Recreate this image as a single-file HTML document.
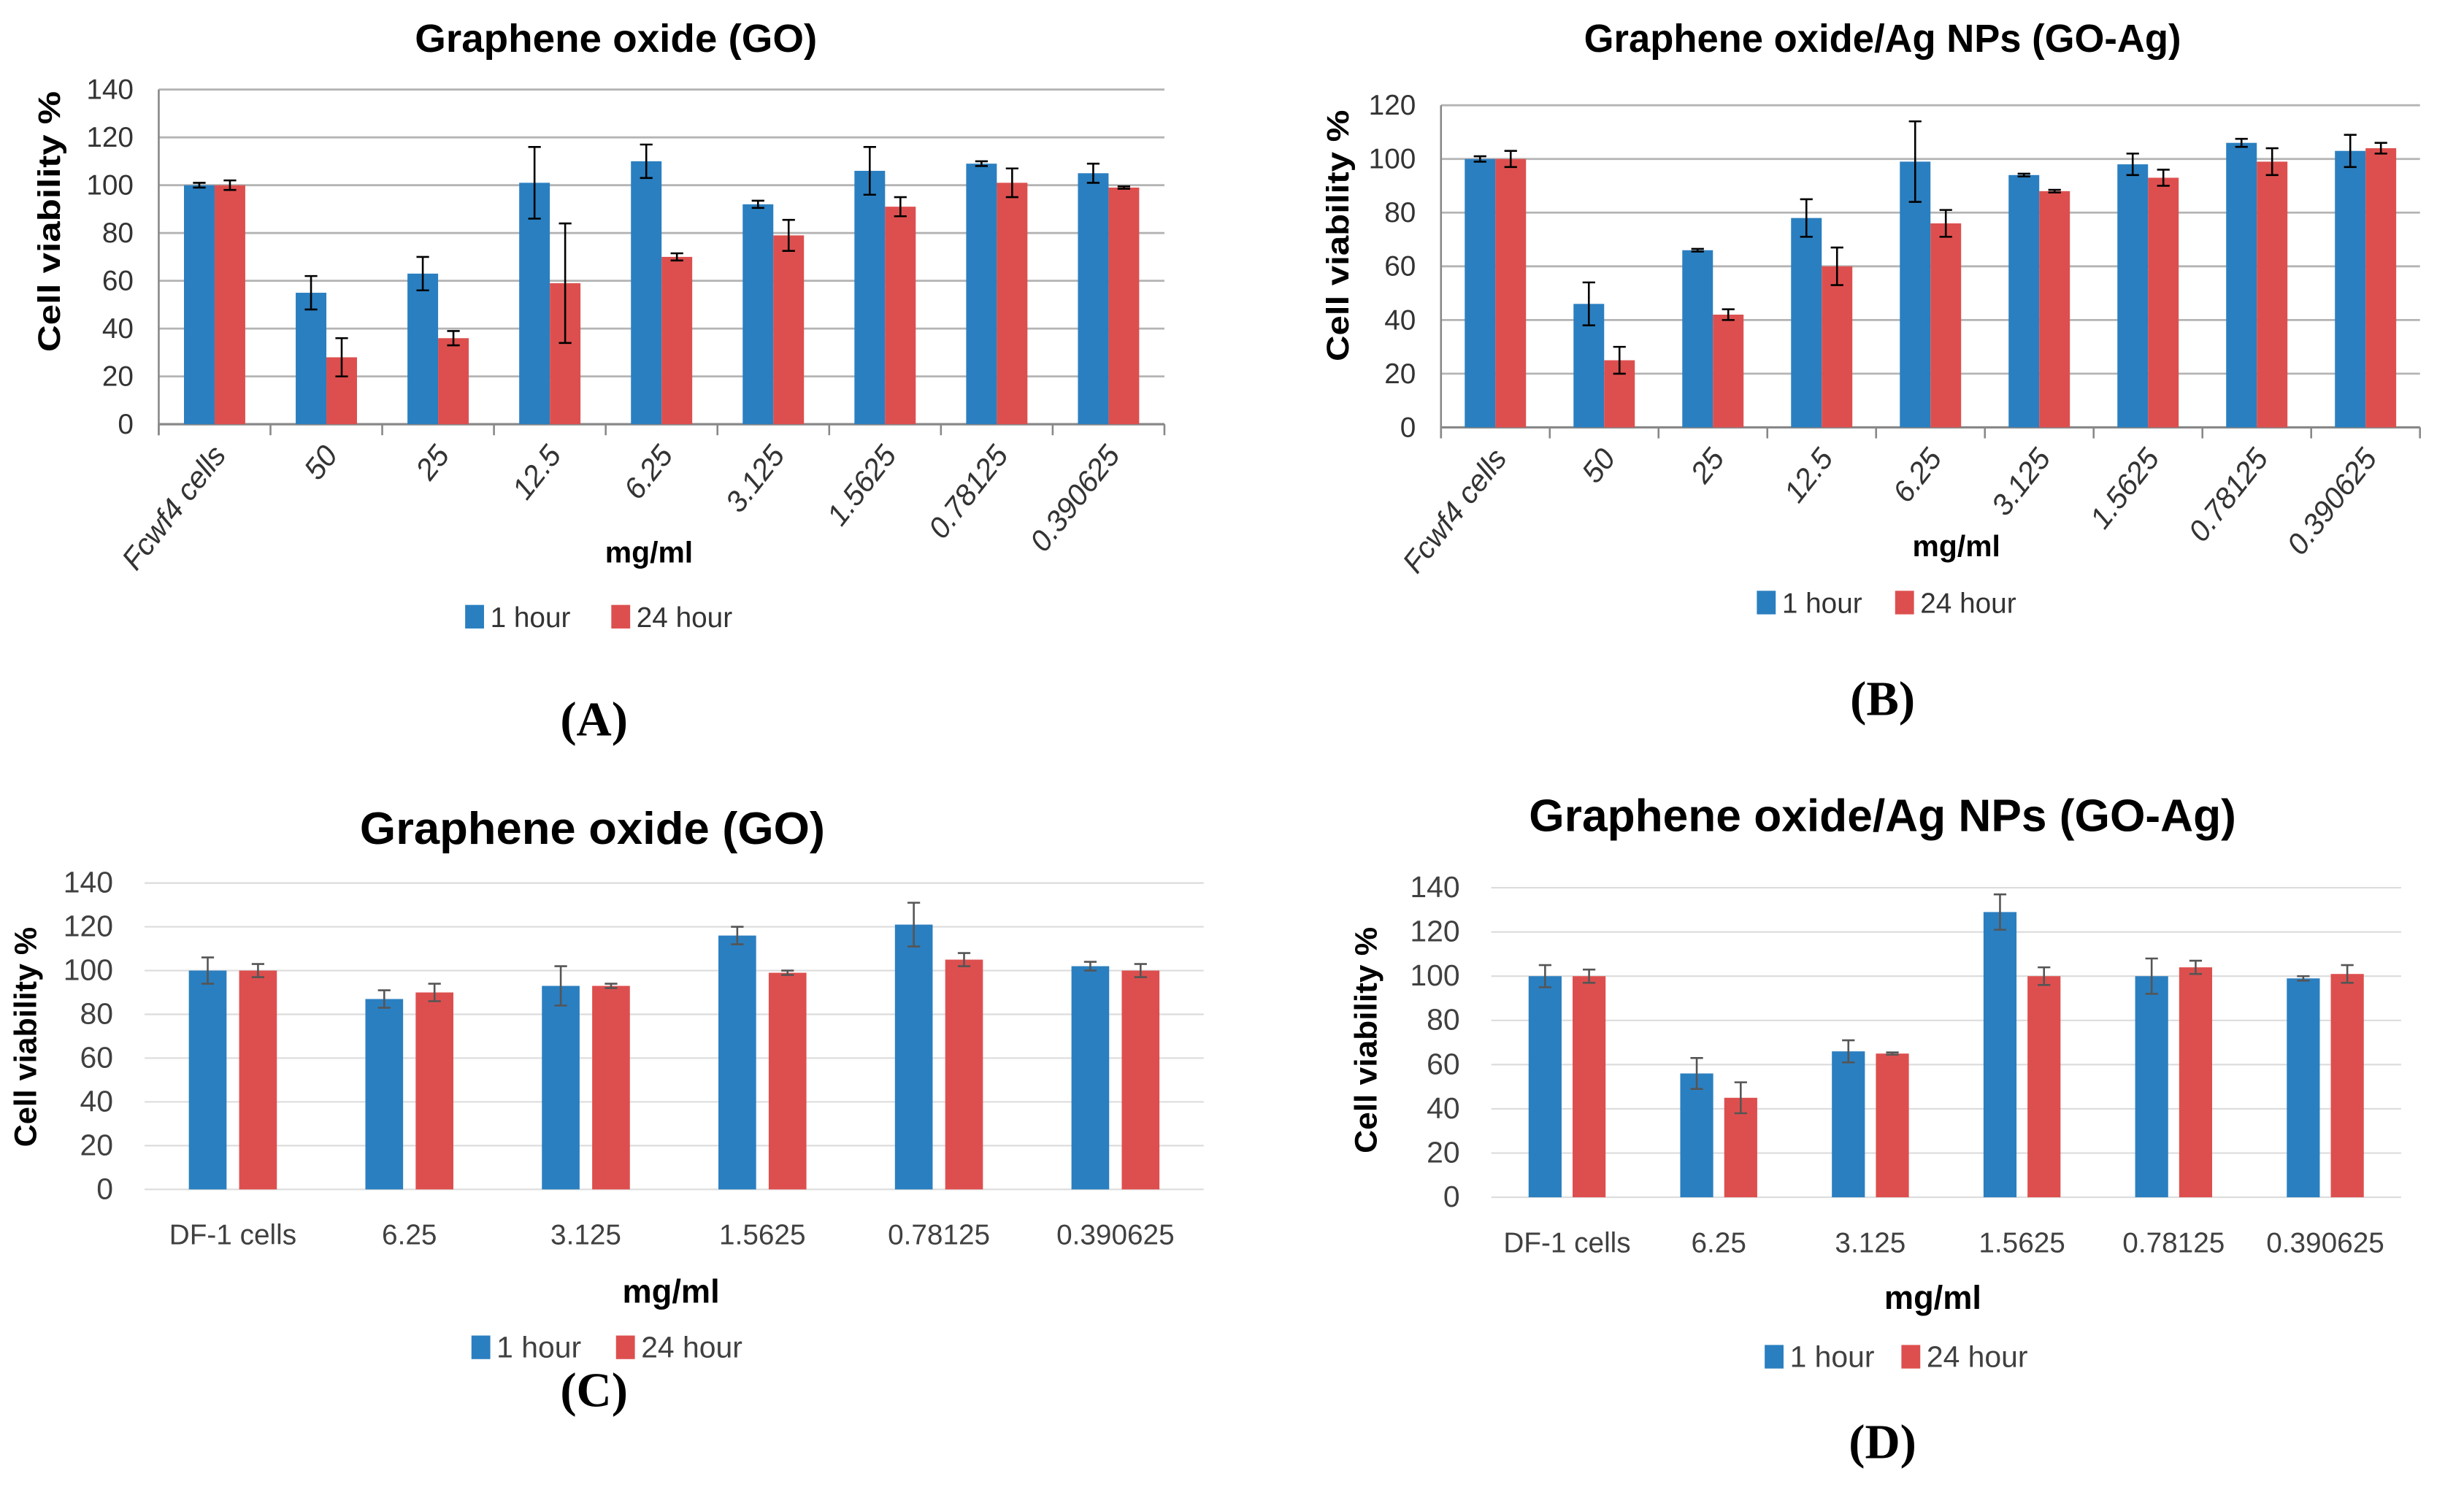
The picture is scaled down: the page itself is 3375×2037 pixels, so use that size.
<!DOCTYPE html>
<html><head><meta charset="utf-8"><style>
html,body{margin:0;padding:0;background:#fff;}
svg{display:block;}
text{font-family:"Liberation Sans Narrow","Liberation Sans",sans-serif;}
</style></head><body>
<svg id="fig" width="3375" height="2037" viewBox="0 0 1568 946.4" xmlns="http://www.w3.org/2000/svg"></svg>
<script>
// Panel A data
const catsA = ["Fcwf4 cells","50","25","12.5","6.25","3.125","1.5625","0.78125","0.390625"];
const h1A = [100,55,63,101,110,92,106,109,105];
const e1A = [1,7,7,15,7,1.5,10,1,4];
const h24A = [100,28,36,59,70,79,91,101,99];
const e24A = [2,8,3,25,1.5,6.5,4,6,0.5];
const ticksA = [0,20,40,60,80,100,120,140];
// Panel B data
const catsB = ["Fcwf4 cells","50","25","12.5","6.25","3.125","1.5625","0.78125","0.390625"];
const h1B = [100,46,66,78,99,94,98,106,103];
const e1B = [1,8,0.5,7,15,0.5,4,1.5,6];
const h24B = [100,25,42,60,76,88,93,99,104];
const e24B = [3,5,2,7,5,0.5,3,5,2];
const ticksB = [0,20,40,60,80,100,120];
// Panel C data
const catsC = ["DF-1 cells","6.25","3.125","1.5625","0.78125","0.390625"];
const h1C = [100,87,93,116,121,102];
const e1C = [6,4,9,4,10,2];
const h24C = [100,90,93,99,105,100];
const e24C = [3,4,1,1,3,3];
const ticksC = [0,20,40,60,80,100,120,140];
// Panel D data
const catsD = ["DF-1 cells","6.25","3.125","1.5625","0.78125","0.390625"];
const h1D = [100,56,66,129,100,99];
const e1D = [5,7,5,8,8,1];
const h24D = [100,45,65,100,104,101];
const e24D = [3,7,0.5,4,3,4];
const ticksD = [0,20,40,60,80,100,120,140];

const NS="http://www.w3.org/2000/svg";
const svg=document.getElementById('fig');
function mk(tag,attrs,parent,txt){const e=document.createElementNS(NS,tag);for(const k in attrs)e.setAttribute(k,attrs[k]);if(txt!==undefined)e.textContent=txt;(parent||svg).appendChild(e);return e;}
const BLUE="#2a7fc0", RED="#dd4f4e";

function panel(cfg){
  const g=mk('g',{});
  
  
  const ymax=cfg.ticks[cfg.ticks.length-1];
  const y=v=>cfg.y0-(v/ymax)*(cfg.y0-cfg.ytop);
  const n=cfg.cats.length, cw=(cfg.x1-cfg.x0)/n;
  const cx=i=>cfg.x0+cw*(i+0.5);
  cfg.ticks.forEach(t=>{
    const l=mk('line',{x1:cfg.x0,x2:cfg.x1,y1:y(t),y2:y(t),stroke:cfg.grid,'stroke-width':cfg.rot?1.3:1},g);
    
    
    const tx=mk('text',{x:cfg.x0-cfg.tickGap,y:y(t)+6,'text-anchor':'end','font-size':cfg.tickFs,fill:cfg.txt},g,String(t));
    
    
  });
  if(cfg.rot){
    const ax=mk('line',{x1:cfg.x0,x2:cfg.x0,y1:cfg.ytop,y2:cfg.y0+7,stroke:'#888','stroke-width':1.2},g);
    
    
    const bx=mk('line',{x1:cfg.x0,x2:cfg.x1,y1:cfg.y0,y2:cfg.y0,stroke:'#888','stroke-width':1.5},g);
    
    
    for(let i=0;i<=n;i++){
      const tk=mk('line',{x1:cfg.x0+cw*i,x2:cfg.x0+cw*i,y1:cfg.y0,y2:cfg.y0+7,stroke:'#888','stroke-width':1.2},g);
      
      
    }
  }
  const series=[[cfg.h1,cfg.e1,BLUE,-1,'bar-1-hour'],[cfg.h24,cfg.e24,RED,1,'bar-24-hour']];
  series.forEach(([vals,errs,col,side,nm])=>{
    vals.forEach((v,i)=>{
      const bxp = side<0 ? cx(i)-cfg.gap/2-cfg.bw : cx(i)+cfg.gap/2;
      const r=mk('rect',{x:bxp,y:y(v),width:cfg.bw,height:cfg.y0-y(v),fill:col},g);
      
      
      const mx=bxp+cfg.bw/2, e=errs[i];
      const eb=mk('path',{d:`M${mx},${y(v+e)}V${y(v-e)}M${mx-4},${y(v+e)}H${mx+4}M${mx-4},${y(v-e)}H${mx+4}`,stroke:cfg.errCol,'stroke-width':1.2,fill:'none'},g);
      
      
    });
  });
  cfg.cats.forEach((c,i)=>{
    let t;
    if(cfg.rot){
      const ax=cx(i)+8, ay=cfg.y0+20;
      t=mk('text',{x:ax,y:ay,'text-anchor':'end','font-size':cfg.catFs,'font-style':'italic',fill:cfg.txt,transform:`rotate(-52 ${ax} ${ay})`},g,c);
    } else {
      t=mk('text',{x:cx(i),y:cfg.catY,'text-anchor':'middle','font-size':cfg.catFs,fill:cfg.txt},g,c);
    }
    
    
  });
  const ti=mk('text',{x:cfg.titleX,y:cfg.titleY,'text-anchor':'middle','font-size':cfg.titleFs,'font-weight':'bold',fill:'#000',textLength:cfg.titleW,lengthAdjust:'spacingAndGlyphs'},g,cfg.title);
  
  
  const yt=mk('text',{x:cfg.ytX,y:cfg.ytY,'text-anchor':'middle','font-size':cfg.ytFs,'font-weight':'bold',fill:'#000',textLength:cfg.ytW,lengthAdjust:'spacingAndGlyphs',style:'font-family:"Liberation Sans",sans-serif',transform:`rotate(-90 ${cfg.ytX} ${cfg.ytY})`},g,'Cell viability %');
  
  
  const xt=mk('text',{x:cfg.xtX,y:cfg.xtY,'text-anchor':'middle','font-size':cfg.xtFs,'font-weight':'bold',fill:'#000'},g,'mg/ml');
  
  
  const lg=mk('g',{},g);
  
  
  const s1=mk('rect',{x:cfg.lgX,y:cfg.lgY-14,width:12,height:15,fill:BLUE},lg);
  
  
  const l1=mk('text',{x:cfg.lgX+16,y:cfg.lgY,'font-size':cfg.lgFs,fill:cfg.txt},lg,'1 hour');
  
  
  const s2=mk('rect',{x:cfg.lgX2,y:cfg.lgY-14,width:12,height:15,fill:RED},lg);
  
  
  const l2=mk('text',{x:cfg.lgX2+16,y:cfg.lgY,'font-size':cfg.lgFs,fill:cfg.txt},lg,'24 hour');
  
  
  const pl=mk('text',{x:cfg.plX,y:cfg.plY,'text-anchor':'middle','font-size':31,'font-weight':'bold',fill:'#000',style:'font-family:"Liberation Serif",serif'},g,cfg.panel);
  
  
}

panel({name:'chart-a',cats:catsA,h1:h1A,e1:e1A,h24:h24A,e24:e24A,ticks:ticksA,
  x0:101,x1:741,ytop:57,y0:270,bw:19.5,gap:0,grid:'#b4b4b4',errCol:'#000',txt:'#333',tickGap:16,tickFs:18,
  rot:true,catFs:19,title:'Graphene oxide (GO)',titleW:256,titleX:392,titleY:33,titleFs:25,
  ytX:38,ytY:141,ytW:166,ytFs:20,xtX:413,xtY:358,xtFs:19,lgX:296,lgX2:389,lgY:399,lgFs:18,panel:'(A)',plX:378,plY:468});
panel({name:'chart-b',cats:catsB,h1:h1B,e1:e1B,h24:h24B,e24:e24B,ticks:ticksB,
  x0:917,x1:1540,ytop:67,y0:272,bw:19.5,gap:0,grid:'#b4b4b4',errCol:'#000',txt:'#333',tickGap:16,tickFs:18,
  rot:true,catFs:19,title:'Graphene oxide/Ag NPs (GO-Ag)',titleW:380,titleX:1198,titleY:33,titleFs:25,
  ytX:858,ytY:150,ytW:160,ytFs:20,xtX:1245,xtY:354,xtFs:19,lgX:1118,lgX2:1206,lgY:390,lgFs:18,panel:'(B)',plX:1198,plY:455});
panel({name:'chart-c',cats:catsC,h1:h1C,e1:e1C,h24:h24C,e24:e24C,ticks:ticksC,
  x0:92,x1:766,ytop:562,y0:757,bw:24,gap:8,grid:'#dcdcdc',errCol:'#555',txt:'#404040',tickGap:20,tickFs:19,
  rot:false,catY:792,catFs:18,title:'Graphene oxide (GO)',titleW:296,titleX:377,titleY:537,titleFs:29,
  ytX:23,ytY:660,ytW:140,ytFs:20,xtX:427,xtY:829,xtFs:21,lgX:300,lgX2:392,lgY:864,lgFs:19,panel:'(C)',plX:378,plY:895});
panel({name:'chart-d',cats:catsD,h1:h1D,e1:e1D,h24:h24D,e24:e24D,ticks:ticksD,
  x0:949,x1:1528,ytop:565,y0:762,bw:21,gap:7,grid:'#dcdcdc',errCol:'#555',txt:'#404040',tickGap:20,tickFs:19,
  rot:false,catY:797,catFs:18,title:'Graphene oxide/Ag NPs (GO-Ag)',titleW:450,titleX:1198,titleY:529,titleFs:29,
  ytX:876,ytY:662,ytW:144,ytFs:20,xtX:1230,xtY:833,xtFs:21,lgX:1123,lgX2:1210,lgY:870,lgFs:19,panel:'(D)',plX:1198,plY:928});
</script>
</body></html>
